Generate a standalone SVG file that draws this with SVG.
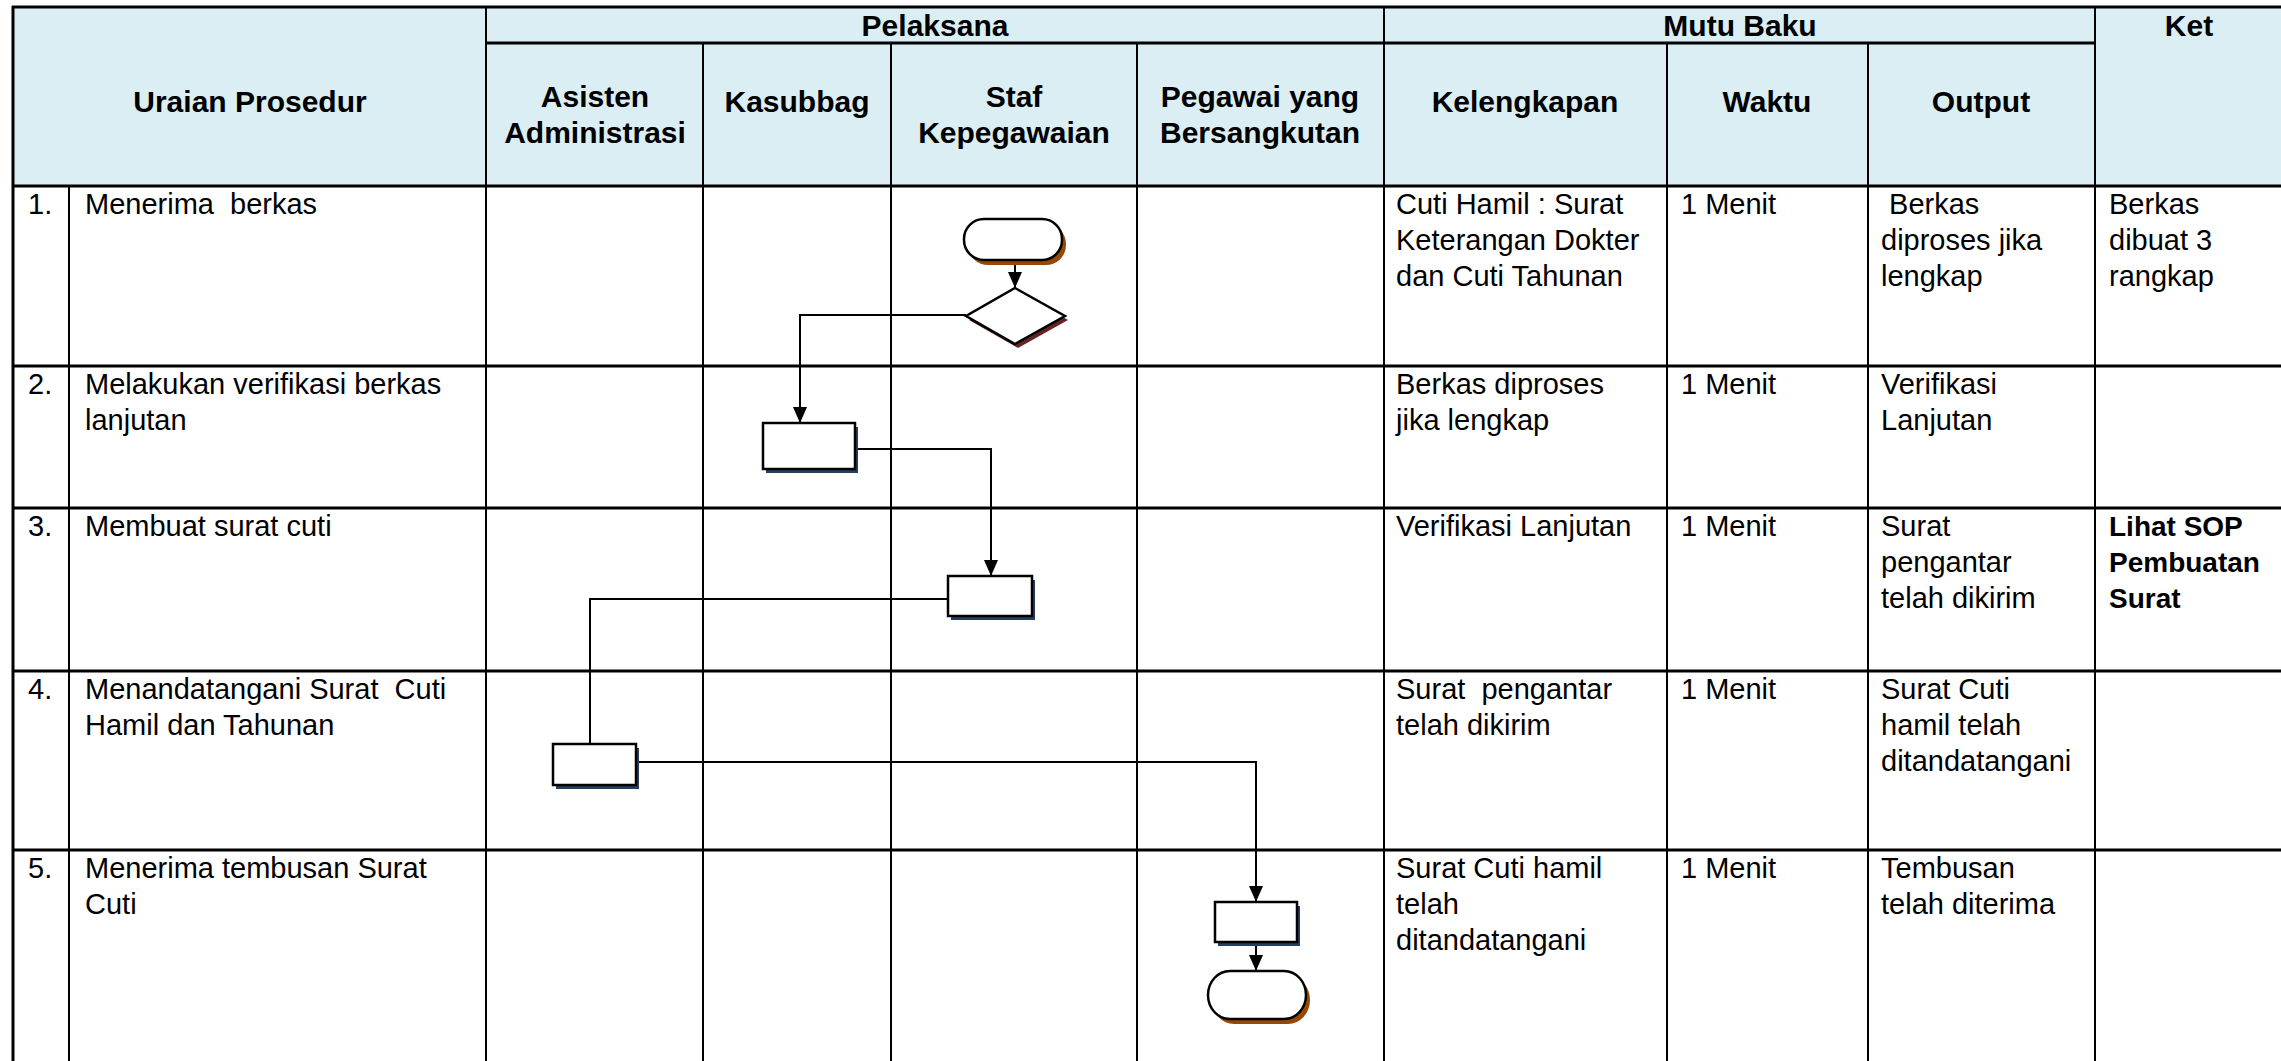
<svg xmlns="http://www.w3.org/2000/svg" width="2281" height="1061" viewBox="0 0 2281 1061">
<style>
.hd{font-family:"Liberation Sans",Arial,sans-serif;font-weight:bold;font-size:30px;fill:#000;text-anchor:middle}
.tx{font-family:"Liberation Sans",Arial,sans-serif;font-size:29px;fill:#000}
.tb{font-family:"Liberation Sans",Arial,sans-serif;font-size:28px;font-weight:bold;fill:#000}
.hl{stroke:#000;stroke-width:3;fill:none}
.vl{stroke:#000;stroke-width:2;fill:none}
.cn{stroke:#000;stroke-width:2;fill:none}
.shp{fill:#fff;stroke:#000;stroke-width:2.5}
.shB{fill:#243F60}
.shO{fill:#984806}
.shR{fill:#632423}
</style>
<defs>
<marker id="ah" viewBox="0 0 16 14" refX="16" refY="7" markerWidth="16" markerHeight="14" markerUnits="userSpaceOnUse" orient="auto">
<path d="M0,0 L16,7 L0,14 z" fill="#000"/>
</marker>
</defs>
<rect x="0" y="0" width="2281" height="1061" fill="#fff"/>
<g id="table">
<rect x="13" y="7" width="2270" height="179" fill="#DBEEF3"/>
<line class="hl" x1="12" y1="7" x2="2283" y2="7"/>
<line class="hl" x1="486" y1="43" x2="2095" y2="43"/>
<line class="hl" x1="12" y1="186" x2="2283" y2="186"/>
<line class="hl" x1="12" y1="366" x2="2283" y2="366"/>
<line class="hl" x1="12" y1="508" x2="2283" y2="508"/>
<line class="hl" x1="12" y1="671" x2="2283" y2="671"/>
<line class="hl" x1="12" y1="850" x2="2283" y2="850"/>
<line class="hl" x1="13" y1="6" x2="13" y2="1061"/>
<line class="vl" x1="69" y1="186" x2="69" y2="1061"/>
<line class="vl" x1="486" y1="7" x2="486" y2="1061"/>
<line class="vl" x1="703" y1="43" x2="703" y2="1061"/>
<line class="vl" x1="891" y1="43" x2="891" y2="1061"/>
<line class="vl" x1="1137" y1="43" x2="1137" y2="1061"/>
<line class="vl" x1="1384" y1="7" x2="1384" y2="1061"/>
<line class="vl" x1="1667" y1="43" x2="1667" y2="1061"/>
<line class="vl" x1="1868" y1="43" x2="1868" y2="1061"/>
<line class="vl" x1="2095" y1="7" x2="2095" y2="1061"/>
</g>
<g id="headers">
<text class="hd" x="935" y="36">Pelaksana</text>
<text class="hd" x="1740" y="36">Mutu Baku</text>
<text class="hd" x="2189" y="36">Ket</text>
<text class="hd" x="250" y="112">Uraian Prosedur</text>
<text class="hd" x="595" y="107">Asisten</text>
<text class="hd" x="595" y="143">Administrasi</text>
<text class="hd" x="797" y="112">Kasubbag</text>
<text class="hd" x="1014" y="107">Staf</text>
<text class="hd" x="1014" y="143">Kepegawaian</text>
<text class="hd" x="1260" y="107">Pegawai yang</text>
<text class="hd" x="1260" y="143">Bersangkutan</text>
<text class="hd" x="1525" y="112">Kelengkapan</text>
<text class="hd" x="1767" y="112">Waktu</text>
<text class="hd" x="1981" y="112">Output</text>
</g>
<g id="row1">
<text class="tx" x="28" y="214">1.</text>
<text class="tx" x="85" y="214" xml:space="preserve">Menerima  berkas</text>
<text class="tx" x="1396" y="214">Cuti Hamil : Surat</text>
<text class="tx" x="1396" y="250">Keterangan Dokter</text>
<text class="tx" x="1396" y="286">dan Cuti Tahunan</text>
<text class="tx" x="1681" y="214">1 Menit</text>
<text class="tx" x="1881" y="214" xml:space="preserve"> Berkas</text>
<text class="tx" x="1881" y="250">diproses jika</text>
<text class="tx" x="1881" y="286">lengkap</text>
<text class="tx" x="2109" y="214">Berkas</text>
<text class="tx" x="2109" y="250">dibuat 3</text>
<text class="tx" x="2109" y="286">rangkap</text>
</g>
<g id="row2">
<text class="tx" x="28" y="394">2.</text>
<text class="tx" x="85" y="394">Melakukan verifikasi berkas</text>
<text class="tx" x="85" y="430">lanjutan</text>
<text class="tx" x="1396" y="394">Berkas diproses</text>
<text class="tx" x="1396" y="430">jika lengkap</text>
<text class="tx" x="1681" y="394">1 Menit</text>
<text class="tx" x="1881" y="394">Verifikasi</text>
<text class="tx" x="1881" y="430">Lanjutan</text>
</g>
<g id="row3">
<text class="tx" x="28" y="536">3.</text>
<text class="tx" x="85" y="536">Membuat surat cuti</text>
<text class="tx" x="1396" y="536">Verifikasi Lanjutan</text>
<text class="tx" x="1681" y="536">1 Menit</text>
<text class="tx" x="1881" y="536">Surat</text>
<text class="tx" x="1881" y="572">pengantar</text>
<text class="tx" x="1881" y="608">telah dikirim</text>
<text class="tb" x="2109" y="536">Lihat SOP</text>
<text class="tb" x="2109" y="572">Pembuatan</text>
<text class="tb" x="2109" y="608">Surat</text>
</g>
<g id="row4">
<text class="tx" x="28" y="699">4.</text>
<text class="tx" x="85" y="699" xml:space="preserve">Menandatangani Surat  Cuti</text>
<text class="tx" x="85" y="735">Hamil dan Tahunan</text>
<text class="tx" x="1396" y="699" xml:space="preserve">Surat  pengantar</text>
<text class="tx" x="1396" y="735">telah dikirim</text>
<text class="tx" x="1681" y="699">1 Menit</text>
<text class="tx" x="1881" y="699">Surat Cuti</text>
<text class="tx" x="1881" y="735">hamil telah</text>
<text class="tx" x="1881" y="771">ditandatangani</text>
</g>
<g id="row5">
<text class="tx" x="28" y="878">5.</text>
<text class="tx" x="85" y="878">Menerima tembusan Surat</text>
<text class="tx" x="85" y="914">Cuti</text>
<text class="tx" x="1396" y="878">Surat Cuti hamil</text>
<text class="tx" x="1396" y="914">telah</text>
<text class="tx" x="1396" y="950">ditandatangani</text>
<text class="tx" x="1681" y="878">1 Menit</text>
<text class="tx" x="1881" y="878">Tembusan</text>
<text class="tx" x="1881" y="914">telah diterima</text>
</g>
<g id="connectors">
<path class="cn" d="M1015,261 V288" marker-end="url(#ah)"/>
<path class="cn" d="M966,315 H800 V423" marker-end="url(#ah)"/>
<path class="cn" d="M855,449 H991 V576" marker-end="url(#ah)"/>
<path class="cn" d="M948,599 H590 V744"/>
<path class="cn" d="M636,762 H1256 V902" marker-end="url(#ah)"/>
<path class="cn" d="M1256,942 V971" marker-end="url(#ah)"/>
</g>
<g id="start">
<rect class="shO" x="968" y="224" width="98" height="41" rx="20" ry="20"/>
<rect class="shp" x="964" y="219" width="98" height="41" rx="20" ry="20"/>
</g>
<g id="decision">
<polygon class="shR" points="1018,292 1068,320 1018,348 969,320"/>
<polygon class="shp" points="1015,288 1065,316 1015,344 966,316"/>
</g>
<g id="box2">
<rect class="shB" x="766" y="427" width="92" height="46"/>
<rect class="shp" x="763" y="423" width="92" height="46"/>
</g>
<g id="box3">
<rect class="shB" x="951" y="580" width="84" height="40"/>
<rect class="shp" x="948" y="576" width="84" height="40"/>
</g>
<g id="box4">
<rect class="shB" x="556" y="748" width="83" height="41"/>
<rect class="shp" x="553" y="744" width="83" height="41"/>
</g>
<g id="box5">
<rect class="shB" x="1218" y="906" width="82" height="40"/>
<rect class="shp" x="1215" y="902" width="82" height="40"/>
</g>
<g id="end">
<rect class="shO" x="1212" y="976" width="98" height="48" rx="22" ry="24"/>
<rect class="shp" x="1208" y="971" width="98" height="48" rx="22" ry="24"/>
</g>
</svg>
